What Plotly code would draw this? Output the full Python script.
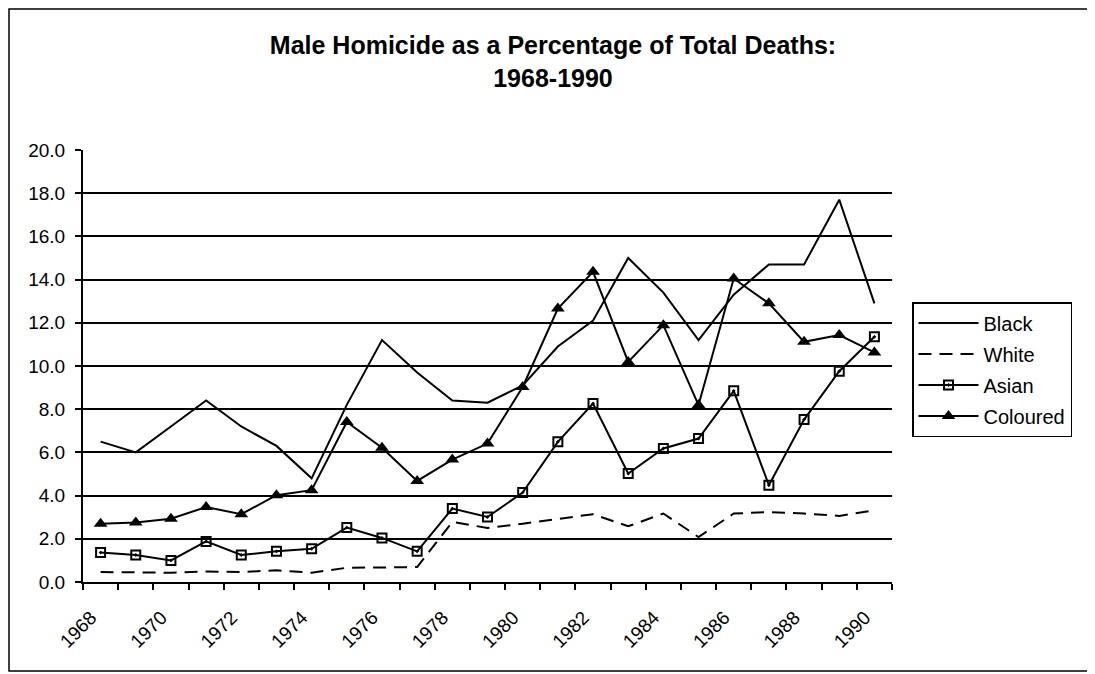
import plotly.graph_objects as go

years = list(range(1968, 1991))
black = [6.5, 6.0, 7.2, 8.4, 7.2, 6.3, 4.8, 8.2, 11.2, 9.7, 8.4, 8.3,
         9.1, 10.9, 12.1, 15.0, 13.4, 11.2, 13.3, 14.7, 14.7, 17.7, 12.9]
white = [0.46, 0.43, 0.43, 0.49, 0.46, 0.54, 0.43, 0.66, 0.66, 0.69, 2.78, 2.5,
         2.7, 2.93, 3.14, 2.58, 3.17, 2.08, 3.17, 3.24, 3.17, 3.06, 3.32]
asian = [1.36, 1.25, 1.0, 1.88, 1.25, 1.42, 1.54, 2.52, 2.04, 1.42, 3.4, 3.01,
         4.14, 6.49, 8.26, 5.02, 6.18, 6.64, 8.85, 4.48, 7.52, 9.76, 11.35]
coloured = [2.7, 2.75, 2.93, 3.47, 3.14, 4.02, 4.25, 7.41, 6.22, 4.68, 5.67, 6.41,
            9.03, 12.66, 14.36, 10.19, 11.89, 8.19, 14.05, 12.9, 11.12, 11.43, 10.63]
label_years = list(range(1968, 1991, 2))
y_ticks = [0, 2, 4, 6, 8, 10, 12, 14, 16, 18, 20]

FONT = "Arial, Liberation Sans, sans-serif"
# page body has an 8px margin; figure coords = screen coords - 8
W, H = 1087, 666
L, T = 75, 142
PW, PH = 809, 432
R, B = W - L - PW, H - T - PH

fig = go.Figure()
fig.add_trace(go.Scatter(x=years, y=black, name="Black", mode="lines",
                         line=dict(color="black", width=2), legendgroup="a"))
fig.add_trace(go.Scatter(x=years, y=white, name="White", mode="lines",
                         line=dict(color="black", width=2, dash="13px,8px"), legendgroup="b"))
fig.add_trace(go.Scatter(x=years, y=asian, name="Asian", mode="lines+markers",
                         line=dict(color="black", width=2),
                         marker=dict(symbol="square-open-dot", size=9, color="black",
                                     line=dict(width=2, color="black")), legendgroup="c"))
fig.add_trace(go.Scatter(x=years, y=coloured, name="Coloured", mode="lines+markers",
                         line=dict(color="black", width=2),
                         marker=dict(symbol="triangle-up", size=12, color="black"), legendgroup="d"))

def fx(px):
    return (px - L) / PW

def fy(py):
    return (H - B - py) / PH

# outer chart frame
fig.add_shape(type="rect", xref="paper", yref="paper",
              x0=fx(1), x1=fx(1085), y0=fy(663), y1=fy(1),
              line=dict(color="black", width=1.5), layer="below")

fig.update_layout(
    width=W, height=H,
    margin=dict(l=L, r=R, t=T, b=B),
    paper_bgcolor="white", plot_bgcolor="white",
    font=dict(family=FONT, color="black", size=19),
    title=dict(text="<b>Male Homicide as a Percentage of Total Deaths:<br>1968-1990</b>",
               x=545 / W, xanchor="center", xref="container",
               y=1 - 46 / H, yanchor="top", yref="container",
               font=dict(family=FONT, size=25, color="black")),
    legend=dict(x=fx(904), xanchor="left",
                y=fy(294), yanchor="top",
                bordercolor="black", borderwidth=1.5, bgcolor="white",
                font=dict(family=FONT, size=20, color="black"),
                traceorder="grouped", tracegroupgap=2, itemwidth=60,
                entrywidth=170, entrywidthmode="pixels"),
    showlegend=True,
)
# labels sit slightly left of the category centre, as in the original
fig.update_xaxes(range=[1967.5, 1990.5], tickmode="array",
                 tickvals=[y - 0.27 for y in label_years],
                 ticktext=[str(y) for y in label_years], tickangle=-45,
                 ticks="", ticklabelstandoff=15,
                 showgrid=False, showline=True, linecolor="black", linewidth=2,
                 zeroline=False,
                 minor=dict(tickmode="linear", tick0=1967.5, dtick=1, ticks="outside",
                            ticklen=6, tickwidth=2, tickcolor="black", showgrid=False),
                 tickfont=dict(family=FONT, size=19, color="black"))
fig.update_yaxes(range=[0, 20], tickmode="array", tickvals=y_ticks,
                 ticktext=[f"{v:.1f}" for v in y_ticks],
                 ticks="outside", ticklen=6, tickwidth=2, tickcolor="black",
                 ticklabelstandoff=6,
                 showgrid=True, gridcolor="black", gridwidth=2,
                 showline=True, linecolor="black", linewidth=2, zeroline=False,
                 tickfont=dict(family=FONT, size=19, color="black"))

fig.write_html("out.html")
